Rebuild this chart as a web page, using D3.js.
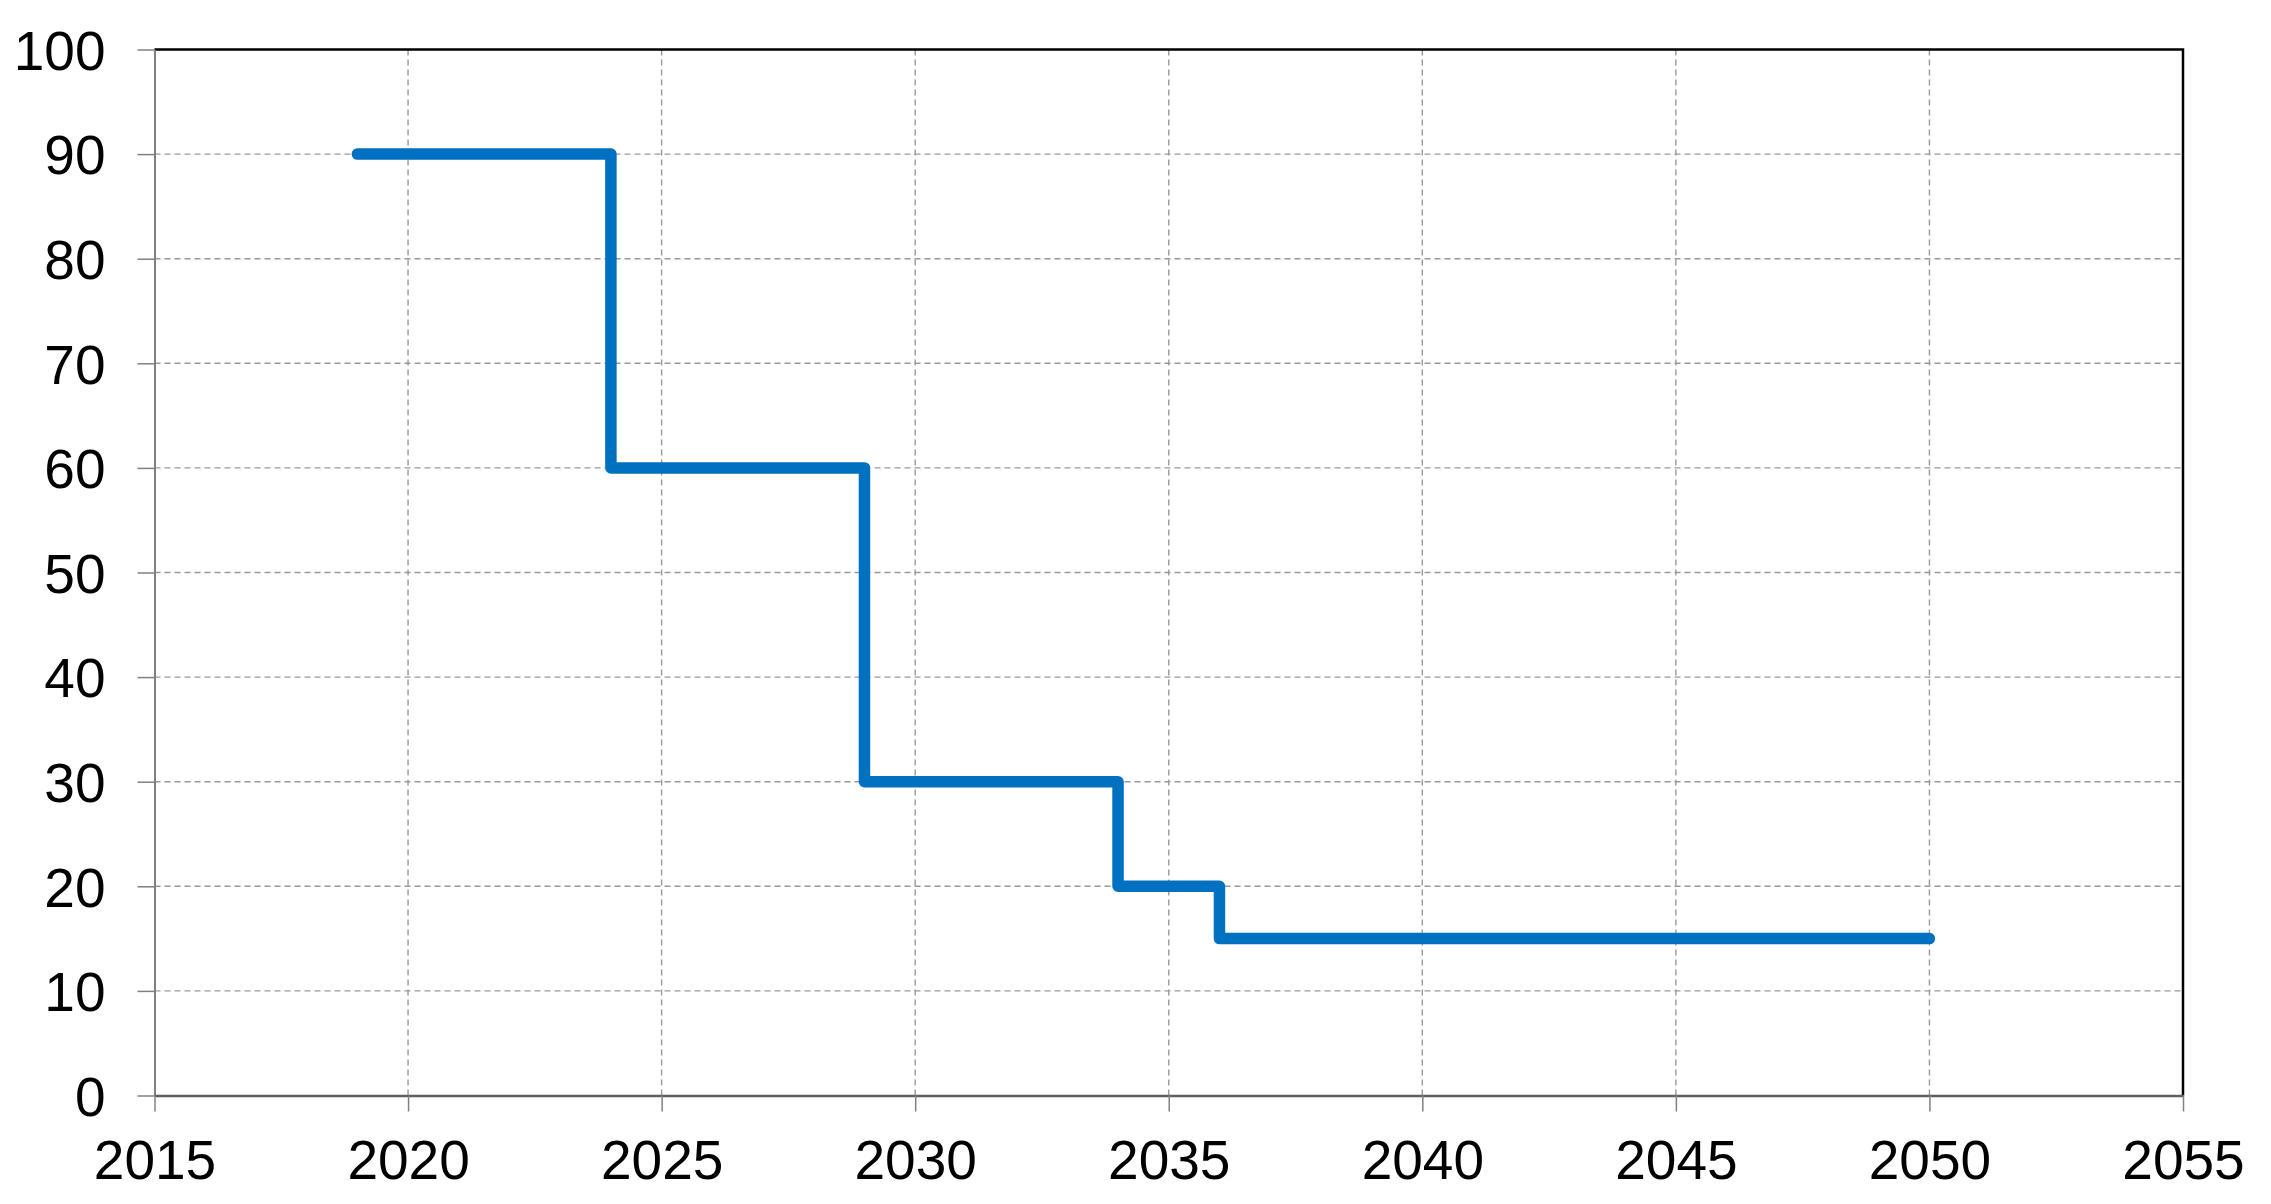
<!DOCTYPE html>
<html><head><meta charset="utf-8">
<script src="https://cdn.jsdelivr.net/npm/d3@7"></script>
<style>body{margin:0;background:#fff}svg{display:block}</style>
</head><body>
<svg id="c" width="2271" height="1204"></svg>
<script>
const years = [2019, 2024, 2029, 2034, 2036, 2050];
const values = [90, 60, 30, 20, 15, 15];
const xTicks = [2015, 2020, 2025, 2030, 2035, 2040, 2045, 2050, 2055];
const yTicks = [0, 10, 20, 30, 40, 50, 60, 70, 80, 90, 100];

const svg = d3.select("#c");
const L = 154.5, R = 2183, T = 49.5, B = 1095.5;
const x = d3.scaleLinear().domain([2015, 2055]).range([L, R]);
const y = d3.scaleLinear().domain([0, 100]).range([B, T]);
const font = "Liberation Sans, Arial, sans-serif";

// grid
svg.append("g").selectAll("line").data(yTicks.filter(d => d > 0 && d < 100)).join("line")
  .attr("x1", L).attr("x2", R).attr("y1", d => y(d)).attr("y2", d => y(d))
  .attr("stroke", "#999").attr("stroke-width", 1.4).attr("stroke-dasharray", "6,4");
svg.append("g").selectAll("line").data(xTicks.filter(d => d > 2015 && d < 2055)).join("line")
  .attr("y1", T).attr("y2", B).attr("x1", d => x(d)).attr("x2", d => x(d))
  .attr("stroke", "#999").attr("stroke-width", 1.4).attr("stroke-dasharray", "6,4");

// frame top/right
svg.append("path").attr("d", `M${L},${T}H${R}V${B}`).attr("fill", "none")
  .attr("stroke", "#000").attr("stroke-width", 2.5);

// axes
const yAxis = d3.axisLeft(y).tickValues(yTicks).tickSize(17).tickPadding(32).tickSizeOuter(0);
const gy = svg.append("g").attr("transform", `translate(${L},0)`).call(yAxis);
gy.select(".domain").attr("stroke", "#808080").attr("stroke-width", 2);
gy.selectAll(".tick line").attr("stroke", "#808080").attr("stroke-width", 1.5);
gy.selectAll(".tick text").attr("font-family", font).attr("font-size", 55).attr("fill", "#000").attr("dy", "0.36em");

const xAxis = d3.axisBottom(x).tickValues(xTicks).tickFormat(d3.format("d")).tickSize(16).tickPadding(28).tickSizeOuter(0);
const gx = svg.append("g").attr("transform", `translate(0,${B})`).call(xAxis);
gx.select(".domain").attr("stroke", "#606060").attr("stroke-width", 2.5);
gx.selectAll(".tick line").attr("stroke", "#808080").attr("stroke-width", 1.5);
gx.selectAll(".tick text").attr("font-family", font).attr("font-size", 55).attr("fill", "#000");

// line
const data = years.map((yr, i) => ({yr, v: values[i]}));
const line = d3.line().x(d => x(d.yr)).y(d => y(d.v)).curve(d3.curveStepAfter);
svg.append("path").datum(data).attr("d", line).attr("fill", "none")
  .attr("stroke", "#0070C0").attr("stroke-width", 11.5)
  .attr("stroke-linejoin", "round").attr("stroke-linecap", "round");
</script>
</body></html>
